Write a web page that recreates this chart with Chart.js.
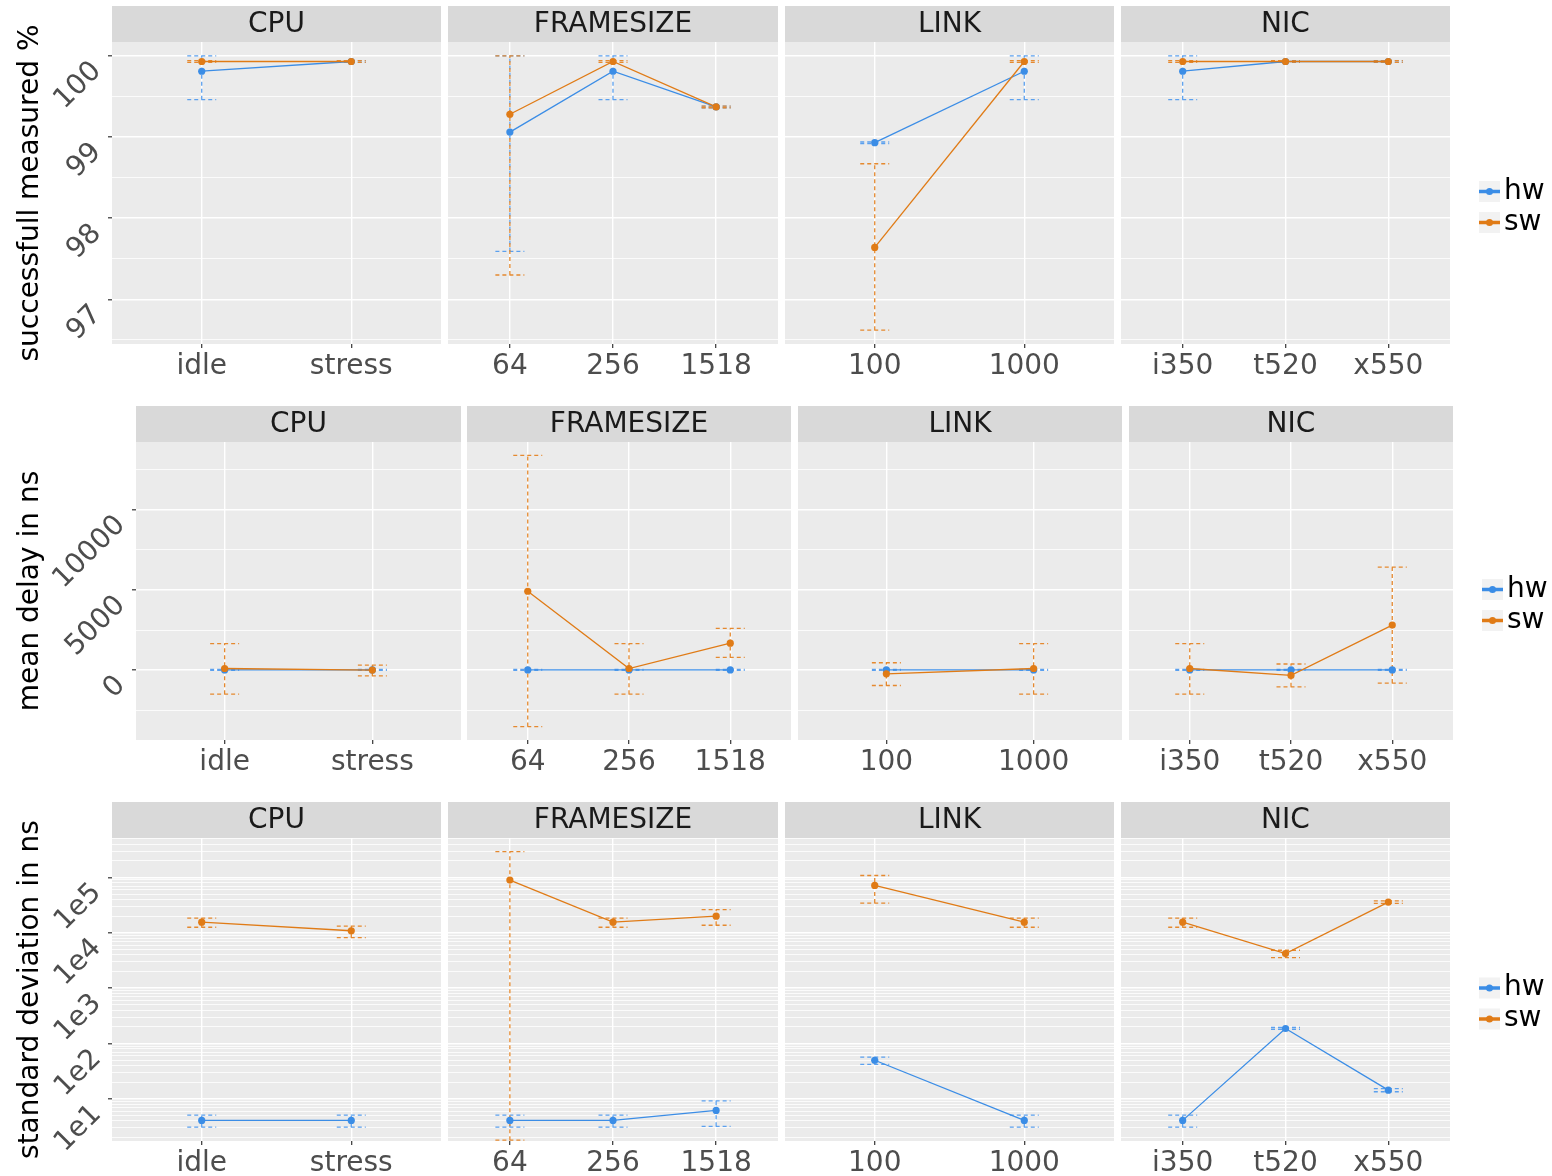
<!DOCTYPE html>
<html lang="en">
<head>
<meta charset="UTF-8">
<title>hw vs sw timestamping - facets</title>
<script src="https://cdn.jsdelivr.net/npm/chart.js"></script>
<style>
  html, body {
    margin: 0;
    padding: 0;
    background: #fff;
    overflow: hidden;
  }
  #wrap {
    position: relative;
    width: 1552px;
    height: 1176px;
  }
  canvas {
    position: absolute;
  }
</style>
</head>
<body>
<div id="wrap"></div>

<script>
// ---- data ----
const seriesNames = ['hw', 'sw'];
const facets = ['CPU', 'FRAMESIZE', 'LINK', 'NIC'];
const cpuLevels = ['idle', 'stress'];
const frameLevels = ['64', '256', '1518'];
const linkLevels = ['100', '1000'];
const nicLevels = ['i350', 't520', 'x550'];
const yTitles = ['successfull measured %', 'mean delay in ns', 'standard deviation in ns'];

// successfull measured %  (per facet: CPU, FRAMESIZE, LINK, NIC)
const successHw     = [[99.81, 99.93], [99.06, 99.81, 99.37], [98.93, 99.81], [99.81, 99.93, 99.93]];
const successHwLow  = [[99.46, 99.92], [97.59, 99.46, 99.36], [98.92, 99.46], [99.46, 99.92, 99.92]];
const successHwHigh = [[100.0, 99.94], [100.0, 100.0, 99.38], [98.94, 100.0], [100.0, 99.94, 99.94]];
const successSw     = [[99.93, 99.93], [99.28, 99.93, 99.37], [97.64, 99.93], [99.93, 99.93, 99.93]];
const successSwLow  = [[99.92, 99.92], [97.30, 99.92, 99.36], [96.62, 99.92], [99.92, 99.92, 99.92]];
const successSwHigh = [[99.94, 99.94], [100.0, 99.94, 99.38], [98.67, 99.94], [99.94, 99.94, 99.94]];

// mean delay in ns
const delayHw     = [[10, 10], [10, 10, 10], [10, 10], [10, 10, 10]];
const delayHwLow  = [[-20, -20], [-20, -20, -20], [-20, -20], [-20, -20, -20]];
const delayHwHigh = [[40, 40], [40, 40, 40], [40, 40], [40, 40, 40]];
const delaySw     = [[100, 0], [4920, 100, 1680], [-230, 100], [100, -330, 2810]];
const delaySwLow  = [[-1500, -360], [-3520, -1500, 790], [-960, -1500], [-1500, -1040, -810]];
const delaySwHigh = [[1650, 310], [13390, 1650, 2600], [460, 1650], [1650, 380, 6420]];

// standard deviation in ns
const devHw     = [[4.1, 4.1], [4.1, 4.1, 6.2], [50, 4.1], [4.1, 187, 14.4]];
const devHwLow  = [[3.1, 3.1], [3.1, 3.1, 3.2], [42, 3.1], [3.1, 180, 13.5]];
const devHwHigh = [[5.1, 5.1], [5.1, 5.1, 9.2], [57, 5.1], [5.1, 195, 15.3]];
const devSw     = [[15600, 10900], [89800, 15600, 20000], [71700, 15600], [15600, 4220, 35900]];
const devSwLow  = [[12600, 8200], [1.8, 12600, 13700], [34400, 12600], [12600, 3560, 34000]];
const devSwHigh = [[18400, 13200], [293000, 18400, 26300], [108600, 18400], [18400, 4850, 37700]];

// axes
const successRange = [96.45, 100.17];
const successTicks = [97, 98, 99, 100];
const successTickLabels = ['97', '98', '99', '100'];
const delayRange = [-4360, 14230];
const delayTicks = [0, 5000, 10000];
const delayTickLabels = ['0', '5000', '10000'];
const devRange = [1.74, 516000];
const devTicks = [10, 100, 1000, 10000, 100000];
const devTickLabels = ['1e1', '1e2', '1e3', '1e4', '1e5'];

// ---- styling / layout ----
Chart.defaults.font.family = '"DejaVu Sans", sans-serif';
const colors = ['#3b8de6', '#e07b16'];
const errColors = ['#5ba0ee', '#e5892f'];
const facetLevels = [cpuLevels, frameLevels, linkLevels, nicLevels];
const STRIP = 36;
const XAXIS = 40;

const rows = [
  {
    top: 6, panelBottom: 344,
    lefts: [112, 448, 785, 1121], rights: [441, 778, 1114, 1450],
    type: 'linear', range: successRange, ticks: successTicks, tickLabels: successTickLabels,
    hw: [successHw, successHwLow, successHwHigh], sw: [successSw, successSwLow, successSwHigh]
  },
  {
    top: 406, panelBottom: 740,
    lefts: [136, 467, 798, 1129], rights: [461, 791, 1122, 1453],
    type: 'linear', range: delayRange, ticks: delayTicks, tickLabels: delayTickLabels,
    hw: [delayHw, delayHwLow, delayHwHigh], sw: [delaySw, delaySwLow, delaySwHigh]
  },
  {
    top: 802, panelBottom: 1141,
    lefts: [112, 448, 785, 1121], rights: [441, 778, 1114, 1450],
    type: 'logarithmic', range: devRange, ticks: devTicks, tickLabels: devTickLabels,
    hw: [devHw, devHwLow, devHwHigh], sw: [devSw, devSwLow, devSwHigh]
  }
];

// gridline positions: labelled ticks plus minor ones in between
function gridValues(row) {
  const [min, max] = row.range;
  const out = [];
  if (row.type === 'logarithmic') {
    for (let k = Math.floor(Math.log10(min)); k <= Math.ceil(Math.log10(max)); k++) {
      for (let m = 1; m <= 9; m++) {
        const v = m * Math.pow(10, k);
        if (v >= min && v <= max) out.push(v);
      }
    }
  } else {
    const step = row.ticks[1] - row.ticks[0];
    for (let v = row.ticks[0] - step * Math.ceil((row.ticks[0] - min) / (step / 2)) / 2; v <= max; v += step / 2) {
      if (v >= min) out.push(v);
    }
  }
  return out;
}

function majorIndex(row, v) {
  return row.ticks.findIndex(t => Math.abs(t - v) <= Math.abs(t) * 1e-6 + 1e-9);
}

// ---- plugins ----
const panelBg = {
  id: 'panelBg',
  beforeDraw(chart, args, opts) {
    const { ctx, chartArea: a } = chart;
    ctx.save();
    ctx.fillStyle = '#ebebeb';
    ctx.fillRect(a.left, a.top, a.right - a.left, a.bottom - a.top);
    ctx.fillStyle = '#d9d9d9';
    ctx.fillRect(a.left, a.top - STRIP, a.right - a.left, STRIP);
    ctx.fillStyle = '#1a1a1a';
    ctx.font = '28px "DejaVu Sans"';
    ctx.textAlign = 'center';
    ctx.textBaseline = 'middle';
    ctx.fillText(opts.label, (a.left + a.right) / 2, a.top - STRIP / 2 + 1);
    ctx.restore();
  }
};

const errorBars = {
  id: 'errorBars',
  beforeDatasetsDraw(chart) {
    const { ctx, chartArea: a, scales: { x, y } } = chart;
    ctx.save();
    ctx.beginPath();
    ctx.rect(a.left, a.top, a.right - a.left, a.bottom - a.top);
    ctx.clip();
    ctx.setLineDash([4, 3]);
    ctx.lineWidth = 1.3;
    chart.data.datasets.forEach(ds => {
      ctx.strokeStyle = ds.errColor;
      ds.data.forEach((p, i) => {
        const px = x.getPixelForValue(p.x);
        const lo = y.getPixelForValue(ds.errLow[i]);
        const hi = y.getPixelForValue(ds.errHigh[i]);
        ctx.beginPath();
        ctx.moveTo(px, lo);
        ctx.lineTo(px, hi);
        ctx.moveTo(px - 14.5, lo);
        ctx.lineTo(px + 14.5, lo);
        ctx.moveTo(px - 14.5, hi);
        ctx.lineTo(px + 14.5, hi);
        ctx.stroke();
      });
    });
    ctx.restore();
  }
};

const sideLegend = {
  id: 'sideLegend',
  afterDraw(chart, args, opts) {
    if (!opts.show) return;
    const { ctx, chartArea: a } = chart;
    const mid = (a.top + a.bottom) / 2;
    const kx = a.right + 29;
    chart.data.datasets.forEach((ds, i) => {
      const cy = mid - 1.5 + i * 31;
      ctx.save();
      ctx.fillStyle = '#f2f2f2';
      ctx.fillRect(kx, cy - 10.5, 21, 21);
      ctx.strokeStyle = ds.borderColor;
      ctx.lineWidth = 3.5;
      ctx.beginPath();
      ctx.moveTo(kx, cy);
      ctx.lineTo(kx + 21, cy);
      ctx.stroke();
      ctx.fillStyle = ds.borderColor;
      ctx.beginPath();
      ctx.arc(kx + 10.5, cy, 3.5, 0, Math.PI * 2);
      ctx.fill();
      ctx.fillStyle = '#000000';
      ctx.font = '28px "DejaVu Sans"';
      ctx.textAlign = 'left';
      ctx.textBaseline = 'middle';
      ctx.fillText(ds.label, kx + 25, cy);
      ctx.restore();
    });
  }
};

// ---- build the 12 panels ----
const wrap = document.getElementById('wrap');

rows.forEach((row, r) => {
  const grid = gridValues(row);
  facets.forEach((facet, f) => {
    const first = f === 0;
    const last = f === facets.length - 1;
    const levels = facetLevels[f];
    const canvasLeft = first ? 0 : row.lefts[f];
    const canvasRight = last ? 1552 : row.rights[f];

    const canvas = document.createElement('canvas');
    canvas.width = canvasRight - canvasLeft;
    canvas.height = row.panelBottom - row.top + XAXIS;
    canvas.style.left = canvasLeft + 'px';
    canvas.style.top = row.top + 'px';
    wrap.appendChild(canvas);

    const datasets = seriesNames.map((name, s) => {
      const [mean, low, high] = s === 0 ? row.hw : row.sw;
      return {
        label: name,
        data: mean[f].map((v, i) => ({ x: i + 1, y: v })),
        errLow: low[f],
        errHigh: high[f],
        errColor: errColors[s],
        borderColor: colors[s],
        backgroundColor: colors[s],
        pointBackgroundColor: colors[s],
        borderWidth: 1.3,
        pointRadius: 3.6,
        pointBorderWidth: 0,
        tension: 0,
        order: s === 0 ? 1 : 0
      };
    });

    new Chart(canvas, {
      type: 'line',
      data: { datasets },
      options: {
        responsive: false,
        animation: false,
        events: [],
        layout: {
          autoPadding: false,
          padding: { top: STRIP, left: 0, bottom: 0, right: canvasRight - row.rights[f] }
        },
        plugins: {
          legend: { display: false },
          tooltip: { enabled: false },
          panelBg: { label: facet },
          sideLegend: { show: last }
        },
        scales: {
          x: {
            type: 'linear',
            min: 0.4,
            max: levels.length + 0.6,
            bounds: 'data',
            afterBuildTicks: s => { s.ticks = levels.map((_, i) => ({ value: i + 1 })); },
            afterFit: s => { s.height = XAXIS; },
            grid: { color: '#ffffff', lineWidth: 1.4, drawTicks: true, tickLength: 4, tickColor: '#333333', tickWidth: 1.2 },
            border: { display: false },
            ticks: {
              autoSkip: false, minRotation: 0, maxRotation: 0, padding: 2,
              color: '#4d4d4d', font: { size: 28 },
              callback: v => levels[Math.round(v) - 1] ?? ''
            }
          },
          y: {
            type: row.type,
            min: row.range[0],
            max: row.range[1],
            bounds: 'data',
            afterBuildTicks: s => { s.ticks = grid.map(v => ({ value: v })); },
            afterFit: s => { s.width = first ? row.lefts[0] : 0; },
            grid: {
              color: '#ffffff',
              lineWidth: c => (c.tick && majorIndex(row, c.tick.value) >= 0) ? 1.6 : 0.8,
              drawTicks: first,
              tickLength: 4,
              tickWidth: 1.2,
              tickColor: c => (c.tick && majorIndex(row, c.tick.value) >= 0) ? '#333333' : 'rgba(0,0,0,0)'
            },
            border: { display: false },
            ticks: {
              display: first,
              autoSkip: false,
              minRotation: 45,
              maxRotation: 45,
              padding: 11,
              labelOffset: 11,
              color: '#4d4d4d',
              font: { size: 28 },
              callback: v => {
                const k = majorIndex(row, v);
                return k >= 0 ? row.tickLabels[k] : '';
              }
            },
            title: {
              display: first,
              text: yTitles[r],
              color: '#000000',
              font: { size: 28 },
              padding: { top: 14, bottom: 0 }
            }
          }
        }
      },
      plugins: [panelBg, errorBars, sideLegend]
    });
  });
});
</script>
</body>
</html>
